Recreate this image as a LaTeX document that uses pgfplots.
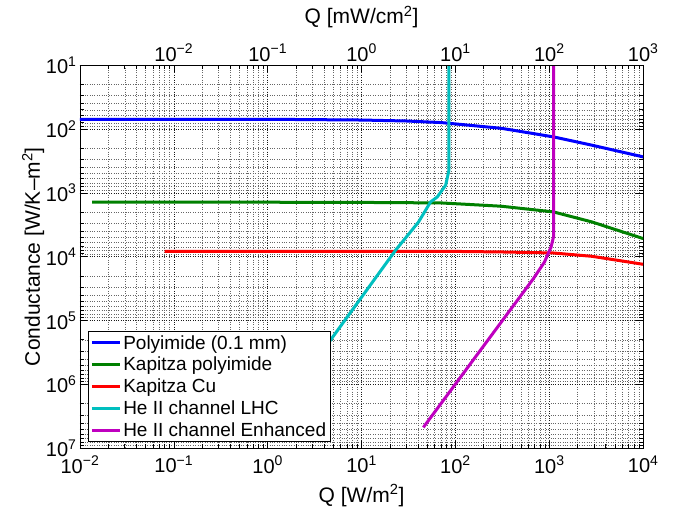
\documentclass[border=0pt]{standalone}
\usepackage{fontspec}
\setmainfont{Liberation Sans}
\usepackage{pgfplots}
\pgfplotsset{compat=1.18}
\definecolor{mblue}{rgb}{0,0,1}
\definecolor{mgreen}{rgb}{0,0.5,0}
\definecolor{mred}{rgb}{1,0,0}
\definecolor{mcyan}{rgb}{0,0.75,0.75}
\definecolor{mmag}{rgb}{0.75,0,0.75}
\newcommand{\pw}[1]{10\textsuperscript{#1}}

\begin{document}
\begin{tikzpicture}
\begin{axis}[
    scale only axis, width=563pt, height=383pt,
    xmode=log, ymode=log,
    tick align=inside,
    axis line style={line width=0.9pt},
    major tick length=7pt, minor tick length=4pt,
    tick style={black, line width=0.6pt},
    tick label style={font=\fontsize{20}{24}\selectfont},
    x tick label style={yshift=-4pt},
    label style={font=\fontsize{21}{25}\selectfont},
    y dir=reverse,
    xmin=1e-2, xmax=1e4, ymin=1e1, ymax=1e7,
    xtick={1e-2,1e-1,1,1e1,1e2,1e3,1e4},
    xticklabels={\pw{−2},\pw{−1},\pw{0},\pw{1},\pw{2},\pw{3},\pw{4}},
    ytick={1e1,1e2,1e3,1e4,1e5,1e6,1e7},
    yticklabels={\pw{1},\pw{2},\pw{3},\pw{4},\pw{5},\pw{6},\pw{7}},
    grid=both,
    major grid style={dotted, black!90, line width=0.6pt},
    minor grid style={dotted, black!60, line width=0.5pt},
    xlabel={Q [W/m\textsuperscript{2}]},
    ylabel={Conductance [W/K–m\textsuperscript{2}]},
    xlabel style={at={(axis description cs:0.5,-0.123)}, anchor=center},
    ylabel style={at={(axis description cs:-0.083,0.5)}, anchor=center},
    legend cell align=left,
    legend style={at={(axis description cs:0.014,0.016)}, anchor=south west,
      font=\fontsize{19}{22}\selectfont, draw=black, line width=0.8pt,
      fill=white, inner sep=2pt, row sep=2.5pt},
    legend image code/.code={\draw[#1, line width=3pt] (0pt,0pt) -- (28pt,0pt);},
  ]
  % Polyimide (0.1 mm)
  \addplot[mblue, line width=3pt] coordinates {
    (0.01,70.5)(1,70.5)(10,72.4)(30,75.0)(70.8,79.4)(310,97.7)
    (1109,133)(2850,179.5)(10000,273.5)
  };
  % Kapitza polyimide
  \addplot[mgreen, line width=3pt] coordinates {
    (0.0135,1403)(1,1403)(10,1413)(70.8,1439)(310,1622)
    (1109,1991)(2850,2858)(10000,5200)
  };
  % Kapitza Cu
  \addplot[mred, line width=3pt] coordinates {
    (0.08,8222)(10,8222)(70.8,8222)(310,8433)
    (1109,8750)(2850,9863)(10000,13150)
  };
  % He II channel LHC
  \addplot[mcyan, line width=3pt] coordinates {
    (1.0,4.416e6)(4.33,2.36e5)(23.0,7943)(40.5,2858)(54.3,1390)
    (64.1,1159)(78.7,760)(85.3,443)(85.4,10)
  };
  % He II channel Enhanced
  \addplot[mmag, line width=3pt] coordinates {
    (45.5,4.72e6)(678,22030)(889,12100)(979,8750)(1045,7047)
    (1109,4909)(1110,10)
  };
  \legend{Polyimide (0.1 mm), Kapitza polyimide, Kapitza Cu,
    He II channel LHC, He II channel Enhanced}
  \coordinate (bbsw) at (axis description cs:-0.142,-0.172);
  \coordinate (bbne) at (axis description cs:1.069,1.170);
\end{axis}
\begin{axis}[
    scale only axis, width=563pt, height=383pt,
    xmode=log,
    xmin=1e-3, xmax=1e3, ymin=0, ymax=1,
    tick align=inside,
    axis line style={line width=0.9pt},
    major tick length=7pt, minor tick length=4pt,
    tick style={black, line width=0.6pt},
    tick label style={font=\fontsize{20}{24}\selectfont},
    label style={font=\fontsize{21}{25}\selectfont},
    axis x line*=top, axis y line=none,
    xtick={1e-2,1e-1,1,1e1,1e2,1e3},
    xticklabels={\pw{−2},\pw{−1},\pw{0},\pw{1},\pw{2},\pw{3}},
    xlabel={Q [mW/cm\textsuperscript{2}]},
    xlabel style={at={(axis description cs:0.5,1.125)}, anchor=center},
  ]
  \addplot[draw=none] coordinates {(1,0.5)};
\end{axis}
\path (bbsw) rectangle (bbne);
\end{tikzpicture}
\end{document}
